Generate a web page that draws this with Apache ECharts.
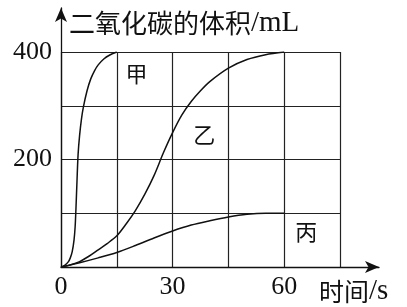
<!DOCTYPE html>
<html><head><meta charset="utf-8">
<script src="https://cdn.jsdelivr.net/npm/echarts@6/dist/echarts.min.js"></script>
<style>html,body{margin:0;padding:0;background:#fff}#c{width:407px;height:307px}</style>
</head><body><div id="c"></div>
<script>
// time (s) and CO2 volume (mL)
const jiaTime = [0, 1, 2, 2.5, 3, 3.5, 3.8, 4, 4.3, 4.6, 5, 5.5, 6, 7, 8, 9, 10, 11.5, 13, 15];
const jiaVol  = [0, 3, 10, 17, 28, 50, 75, 105, 160, 210, 245, 275, 297, 328, 350, 365, 376, 387, 394, 400];
const yiTime  = [0, 2.5, 5, 7.5, 10, 12.5, 15, 17.5, 20, 22.5, 25, 27.5, 30, 32.5, 35, 37.5, 40, 45, 50, 55, 60];
const yiVol   = [0, 4, 10, 20, 32, 44, 58, 80, 105, 135, 170, 212, 250, 283, 308, 328, 345, 370, 386, 395, 400];
const bingTime = [0, 5, 10, 15, 20, 25, 30, 35, 40, 45, 50, 55, 60];
const bingVol  = [0, 8, 17, 27, 40, 54, 67, 78, 86, 93, 98, 100, 100];
const xTickLabels = [0, 30, 60];
const yTickLabels = [200, 400];
const curveNames = ['甲', '乙', '丙'];
const curveLabelAt = [[20.3, 360], [38.5, 247], [65.9, 65]];

const pairs = (t, v) => t.map((x, i) => [x, v[i]]);
const CJK = '"Noto Sans CJK SC", sans-serif';
const SERIF = '"Liberation Serif", "DejaVu Serif", serif';

function lineSeries(name, data, idx) {
  return {
    type: 'line', name, data, xAxisIndex: 0, yAxisIndex: 0,
    smooth: 0.3, showSymbol: false, symbol: 'none',
    lineStyle: { color: '#111', width: 1.5 }, silent: true,
    markPoint: {
      symbol: 'circle', symbolSize: 0, silent: true,
      label: { show: true, position: 'inside', formatter: curveNames[idx],
               fontFamily: CJK, fontSize: 22, color: '#111' },
      data: [{ coord: curveLabelAt[idx] }]
    }
  };
}

const chart = echarts.init(document.getElementById('c'), null, { renderer: 'canvas' });
chart.setOption({
  animation: false,
  backgroundColor: '#fff',
  grid: [
    { left: 61, top: 52, width: 279, height: 215 },
    { left: 61, top: 8, width: 318, height: 259 }
  ],
  xAxis: [
    { type: 'value', gridIndex: 0, min: 0, max: 75, interval: 15,
      axisLine: { show: false }, axisTick: { show: false },
      axisLabel: { margin: 7, fontFamily: SERIF, fontSize: 26, color: '#111',
        formatter: v => xTickLabels.includes(v) ? String(v) : '' },
      splitLine: { show: true, lineStyle: { color: '#222', width: 1.2 } } },
    { type: 'value', gridIndex: 1, min: 0, max: 1,
      axisLine: { show: true, symbol: ['none', 'arrow'], symbolSize: [9, 14],
        lineStyle: { color: '#111', width: 1.3 } },
      axisTick: { show: false }, axisLabel: { show: false }, splitLine: { show: false } }
  ],
  yAxis: [
    { type: 'value', gridIndex: 0, min: 0, max: 400, interval: 100,
      axisLine: { show: false }, axisTick: { show: false },
      axisLabel: { margin: 9, fontFamily: SERIF, fontSize: 26, color: '#111',
        formatter: v => yTickLabels.includes(v) ? String(v) : '' },
      splitLine: { show: true, lineStyle: { color: '#222', width: 1.2 } } },
    { type: 'value', gridIndex: 1, min: 0, max: 1,
      axisLine: { show: true, symbol: ['none', 'arrow'], symbolSize: [9, 14],
        lineStyle: { color: '#111', width: 1.3 } },
      axisTick: { show: false }, axisLabel: { show: false }, splitLine: { show: false } }
  ],
  graphic: [
    { type: 'text', left: 69, top: 9, silent: true,
      style: { text: '{a|二氧化碳的体积}{b|/mL}', fill: '#111',
        rich: { a: { fontFamily: CJK, fontSize: 26, fill: '#111' },
                b: { fontFamily: SERIF, fontSize: 29, fill: '#111' } } } },
    { type: 'text', left: 319, top: 277, silent: true,
      style: { text: '{a|时间}{b|/s}', fill: '#111',
        rich: { a: { fontFamily: CJK, fontSize: 25, fill: '#111' },
                b: { fontFamily: SERIF, fontSize: 29, fill: '#111' } } } }
  ],
  series: [
    lineSeries('甲', pairs(jiaTime, jiaVol), 0),
    lineSeries('乙', pairs(yiTime, yiVol), 1),
    lineSeries('丙', pairs(bingTime, bingVol), 2)
  ]
});
</script></body></html>
